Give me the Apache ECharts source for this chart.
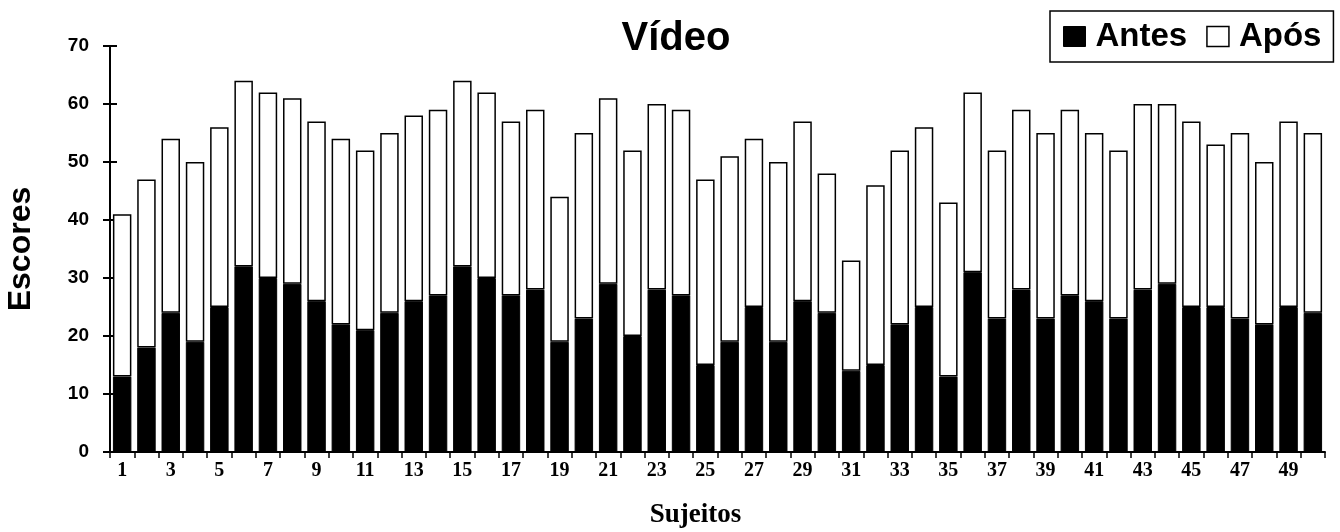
<!DOCTYPE html>
<html>
<head>
<meta charset="utf-8">
<script src="https://cdn.jsdelivr.net/npm/echarts@6/dist/echarts.min.js"></script>
<style>html,body{margin:0;padding:0;background:#fff}#c{width:1340px;height:532px}</style>
</head>
<body>
<div id="c"></div>
<script>
const subjects = Array.from({length: 50}, (_, i) => String(i + 1));
const antes = [13,18,24,19,25,32,30,29,26,22,21,24,26,27,32,30,27,28,19,23,29,20,28,27,15,19,25,19,26,24,14,15,22,25,13,31,23,28,23,27,26,23,28,29,25,25,23,22,25,24];
const apos = [28,29,30,31,31,32,32,32,31,32,31,31,32,32,32,32,30,31,25,32,32,32,32,32,32,32,29,31,31,24,19,31,30,31,30,31,29,31,32,32,29,29,32,31,32,28,32,28,32,31];
const yTicks = [0,10,20,30,40,50,60,70];

const chart = echarts.init(document.getElementById('c'), null, {renderer: 'canvas'});
const sans = 'Liberation Sans';
const serif = 'Liberation Serif';
chart.setOption({
  animation: false,
  backgroundColor: '#fff',
  title: {
    text: 'Vídeo', left: 671, top: 14, textAlign: 'center',
    textStyle: {fontFamily: sans, fontWeight: 'bold', fontSize: 40, color: '#000'}
  },
  legend: {
    left: 1050, top: 11,
    padding: [9, 12, 9, 13],
    borderColor: '#000', borderWidth: 1.5,
    itemWidth: 22, itemHeight: 20, itemGap: 19,
    icon: 'rect',
    textStyle: {fontFamily: sans, fontWeight: 'bold', fontSize: 33, color: '#000', padding: [0, 0, 0, 5]},
    data: [
      {name: 'Antes', itemStyle: {color: '#000', borderColor: '#000', borderWidth: 1}},
      {name: 'Após', itemStyle: {color: '#fff', borderColor: '#000', borderWidth: 1.5}}
    ]
  },
  grid: {left: 110, right: 15, top: 46, bottom: 80, containLabel: false, outerBoundsMode: 'none'},
  xAxis: {
    type: 'category', data: subjects,
    name: 'Sujeitos', nameLocation: 'middle', nameGap: 50,
    nameTextStyle: {fontFamily: serif, fontWeight: 'bold', fontSize: 27, color: '#000', padding: [0, 44, 0, 0]},
    axisLine: {lineStyle: {color: '#000', width: 2}},
    axisTick: {show: true, interval: 0, length: 6, lineStyle: {color: '#000', width: 1.5}},
    axisLabel: {interval: 1, color: '#000', fontFamily: serif, fontWeight: 'bold', fontSize: 20, margin: 9},
    splitLine: {show: false}
  },
  yAxis: [{
    type: 'value', min: 0, max: 70, interval: 10,
    name: 'Escores', nameLocation: 'middle', nameGap: 73, nameRotate: 90,
    nameTextStyle: {fontFamily: sans, fontWeight: 'bold', fontSize: 32, color: '#000'},
    axisLine: {show: true, lineStyle: {color: '#000', width: 2}},
    axisTick: {show: true, length: 7, lineStyle: {color: '#000', width: 2}},
    axisLabel: {color: '#000', fontFamily: sans, fontWeight: 'bold', fontSize: 19, margin: 21,
      formatter: v => yTicks.includes(v) ? String(v) : ''},
    splitLine: {show: false}
  }, {
    type: 'value', min: 0, max: 70, interval: 10, position: 'left',
    axisLine: {show: false},
    axisTick: {show: true, inside: true, length: 7, lineStyle: {color: '#000', width: 2}},
    axisLabel: {show: false},
    splitLine: {show: false}
  }],
  series: [
    {
      name: 'Antes', type: 'bar', stack: 'total', data: antes,
      barCategoryGap: '24%',
      itemStyle: {color: '#000', borderColor: '#000', borderWidth: 1}
    },
    {
      name: 'Após', type: 'bar', stack: 'total', data: apos,
      itemStyle: {color: '#fff', borderColor: '#000', borderWidth: 1.5}
    }
  ]
});
</script>
</body>
</html>
